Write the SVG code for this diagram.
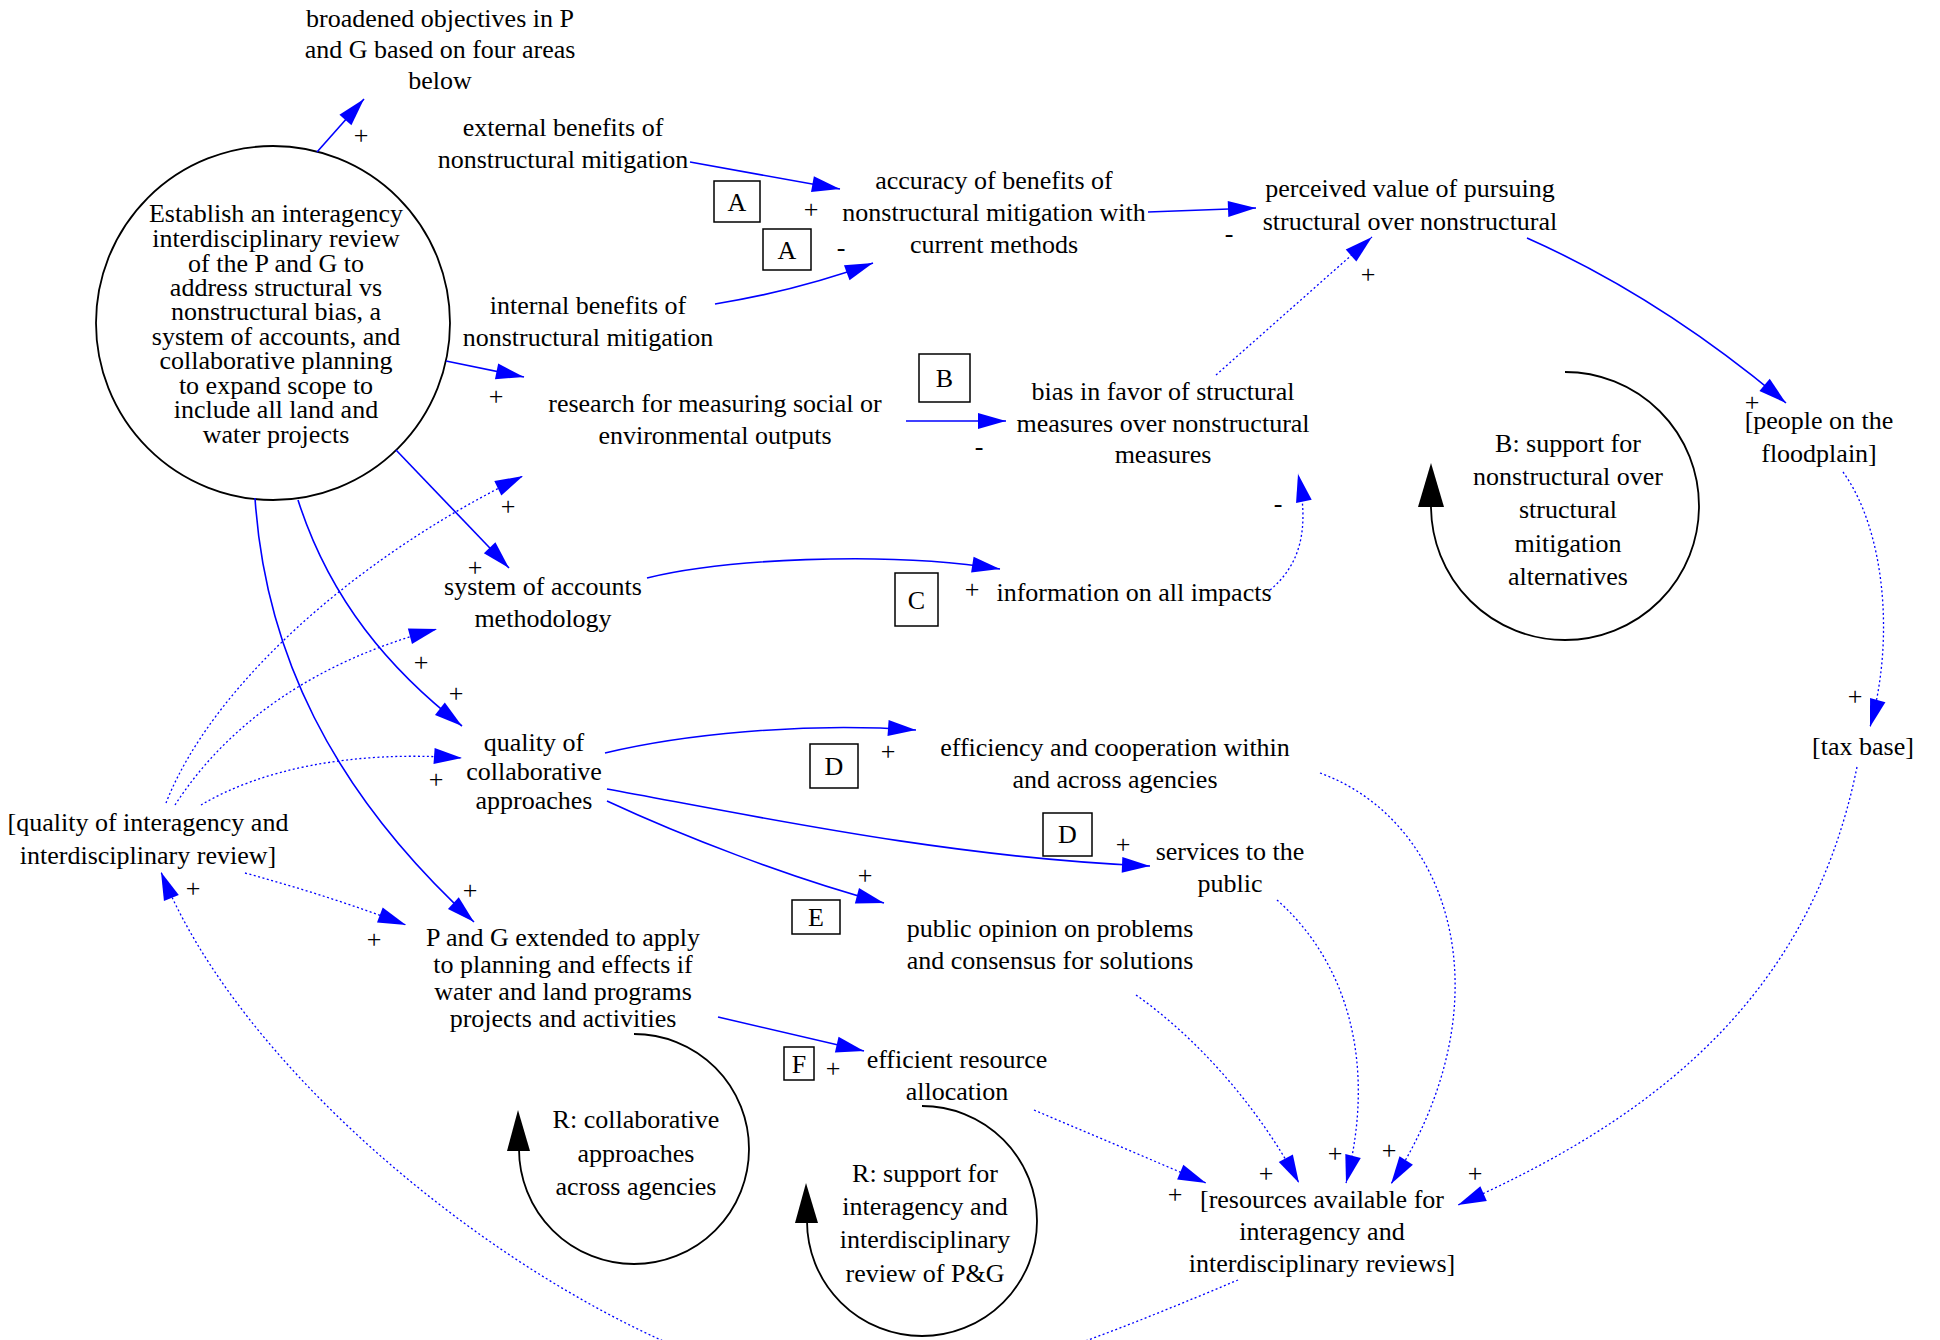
<svg xmlns="http://www.w3.org/2000/svg" width="1940" height="1340" viewBox="0 0 1940 1340">
<style>
.t { font-family: "Liberation Serif", "Times New Roman", serif; font-size: 26px; fill: #000; text-anchor: middle; }
.e { fill: none; stroke: #0000ff; stroke-width: 1.6; }
.d { stroke-dasharray: 2 2.5; stroke-width: 1.3; }
.loop { fill: none; stroke: #000; stroke-width: 1.8; }
.box { fill: none; stroke: #000; stroke-width: 1.5; }
.ah { fill: #000; }
</style>
<defs>
<marker id="a" markerUnits="userSpaceOnUse" markerWidth="30" markerHeight="18" refX="28" refY="8" orient="auto" overflow="visible">
<path d="M0,0 L28,8 L0,16 z" fill="#0000ff"/>
</marker>
</defs>
<rect width="1940" height="1340" fill="#fff"/>

<g id="n_broadened"><text class="t"><tspan x="440" y="27">broadened objectives in P</tspan><tspan x="440" y="58">and G based on four areas</tspan><tspan x="440" y="89">below</tspan></text></g>

<g id="n_establish">
<circle cx="273" cy="323" r="177" class="loop"/>
<text class="t"><tspan x="276" y="222">Establish an interagency</tspan><tspan x="276" y="247">interdisciplinary review</tspan><tspan x="276" y="272">of the P and G to</tspan><tspan x="276" y="296">address structural vs</tspan><tspan x="276" y="320">nonstructural bias, a</tspan><tspan x="276" y="345">system of accounts, and</tspan><tspan x="276" y="369">collaborative planning</tspan><tspan x="276" y="394">to expand scope to</tspan><tspan x="276" y="418">include all land and</tspan><tspan x="276" y="443">water projects</tspan></text>
</g>

<g id="n_external"><text class="t"><tspan x="563" y="136">external benefits of</tspan><tspan x="563" y="168">nonstructural mitigation</tspan></text></g>
<g id="n_internal"><text class="t"><tspan x="588" y="314">internal benefits of</tspan><tspan x="588" y="346">nonstructural mitigation</tspan></text></g>
<g id="n_research"><text class="t"><tspan x="715" y="412">research for measuring social or</tspan><tspan x="715" y="444">environmental outputs</tspan></text></g>
<g id="n_accuracy"><text class="t"><tspan x="994" y="189">accuracy of benefits of</tspan><tspan x="994" y="221">nonstructural mitigation with</tspan><tspan x="994" y="253">current methods</tspan></text></g>
<g id="n_perceived"><text class="t"><tspan x="1410" y="197">perceived value of pursuing</tspan><tspan x="1410" y="230">structural over nonstructural</tspan></text></g>
<g id="n_bias"><text class="t"><tspan x="1163" y="400">bias in favor of structural</tspan><tspan x="1163" y="432">measures over nonstructural</tspan><tspan x="1163" y="463">measures</tspan></text></g>
<g id="n_system"><text class="t"><tspan x="543" y="595">system of accounts</tspan><tspan x="543" y="627">methodology</tspan></text></g>
<g id="n_information"><text class="t"><tspan x="1134" y="601">information on all impacts</tspan></text></g>
<g id="n_qualcollab"><text class="t"><tspan x="534" y="751">quality of</tspan><tspan x="534" y="780">collaborative</tspan><tspan x="534" y="809">approaches</tspan></text></g>
<g id="n_efficiency"><text class="t"><tspan x="1115" y="756">efficiency and cooperation within</tspan><tspan x="1115" y="788">and across agencies</tspan></text></g>
<g id="n_qualreview"><text class="t"><tspan x="148" y="831">[quality of interagency and</tspan><tspan x="148" y="864">interdisciplinary review]</tspan></text></g>
<g id="n_services"><text class="t"><tspan x="1230" y="860">services to the</tspan><tspan x="1230" y="892">public</tspan></text></g>
<g id="n_opinion"><text class="t"><tspan x="1050" y="937">public opinion on problems</tspan><tspan x="1050" y="969">and consensus for solutions</tspan></text></g>
<g id="n_pandg"><text class="t"><tspan x="563" y="946">P and G extended to apply</tspan><tspan x="563" y="973">to planning and effects if</tspan><tspan x="563" y="1000">water and land programs</tspan><tspan x="563" y="1027">projects and activities</tspan></text></g>
<g id="n_efficient"><text class="t"><tspan x="957" y="1068">efficient resource</tspan><tspan x="957" y="1100">allocation</tspan></text></g>
<g id="n_resources"><text class="t"><tspan x="1322" y="1208">[resources available for</tspan><tspan x="1322" y="1240">interagency and</tspan><tspan x="1322" y="1272">interdisciplinary reviews]</tspan></text></g>
<g id="n_people"><text class="t"><tspan x="1819" y="429">[people on the</tspan><tspan x="1819" y="462">floodplain]</tspan></text></g>
<g id="n_tax"><text class="t"><tspan x="1863" y="755">[tax base]</tspan></text></g>

<g id="loop_B">
<path class="loop" d="M1565,372 A134,134 0 1 1 1431,506"/>
<polygon class="ah" points="1431,463 1418,507 1444,507"/>
<text class="t"><tspan x="1568" y="452">B: support for</tspan><tspan x="1568" y="485">nonstructural over</tspan><tspan x="1568" y="518">structural</tspan><tspan x="1568" y="552">mitigation</tspan><tspan x="1568" y="585">alternatives</tspan></text>
</g>
<g id="loop_R1">
<path class="loop" d="M634,1034 A115,115 0 1 1 519,1149"/>
<polygon class="ah" points="518,1110 507,1151 530,1151"/>
<text class="t"><tspan x="636" y="1128">R: collaborative</tspan><tspan x="636" y="1162">approaches</tspan><tspan x="636" y="1195">across agencies</tspan></text>
</g>
<g id="loop_R2">
<path class="loop" d="M922,1106 A115,115 0 1 1 807,1221"/>
<polygon class="ah" points="806,1183 795,1223 818,1223"/>
<text class="t"><tspan x="925" y="1182">R: support for</tspan><tspan x="925" y="1215">interagency and</tspan><tspan x="925" y="1248">interdisciplinary</tspan><tspan x="925" y="1282">review of P&amp;G</tspan></text>
</g>

<g id="tags">
<rect class="box" x="714" y="181" width="46" height="41"/><text class="t" x="737" y="211">A</text>
<rect class="box" x="763" y="229" width="48" height="41"/><text class="t" x="787" y="259">A</text>
<rect class="box" x="919" y="354" width="51" height="48"/><text class="t" x="944.5" y="387">B</text>
<rect class="box" x="895" y="573" width="43" height="53"/><text class="t" x="916.5" y="609">C</text>
<rect class="box" x="810" y="744" width="48" height="44"/><text class="t" x="834" y="775">D</text>
<rect class="box" x="1043" y="813" width="49" height="43"/><text class="t" x="1067.5" y="843">D</text>
<rect class="box" x="792" y="900" width="48" height="34"/><text class="t" x="816" y="926">E</text>
<rect class="box" x="784" y="1047" width="30" height="33"/><text class="t" x="799" y="1073">F</text>
</g>

<g id="connectors" marker-end="url(#a)">
<path class="e" d="M317,152 L364,99"/>
<path class="e" d="M690,162 L840,189"/>
<path class="e" d="M715,304 Q800,290 873,263"/>
<path class="e" d="M1148,212 L1256,208"/>
<path class="e" d="M1527,238 Q1660,297 1786,403"/>
<path class="e d" d="M1216,375 L1372,237"/>
<path class="e" d="M446,361 L524,377"/>
<path class="e" d="M906,421 L1006,421"/>
<path class="e d" d="M1270,590 C1300,565 1310,530 1298,474"/>
<path class="e" d="M396,450 L509,568"/>
<path class="e" d="M647,578 C720,560 880,550 1000,569"/>
<path class="e" d="M298,500 C330,600 390,670 462,726"/>
<path class="e" d="M255,498 C265,650 330,790 474,922"/>
<path class="e d" d="M166,803 C210,690 350,560 523,476"/>
<path class="e d" d="M175,805 C230,720 320,660 437,629"/>
<path class="e d" d="M201,805 C260,770 350,750 462,758"/>
<path class="e d" d="M245,873 Q330,896 406,925"/>
<path class="e" d="M605,753 C680,735 800,722 916,730"/>
<path class="e" d="M607,789 C750,815 950,858 1150,866"/>
<path class="e" d="M607,801 C680,835 790,878 884,903"/>
<path class="e" d="M718,1017 L864,1051"/>
<path class="e d" d="M1034,1110 L1206,1183"/>
<path class="e d" d="M1136,995 C1200,1040 1260,1110 1299,1183"/>
<path class="e d" d="M1277,900 C1345,960 1378,1060 1346,1183"/>
<path class="e d" d="M1320,773 C1450,820 1510,1000 1391,1184"/>
<path class="e d" d="M1857,767 C1810,1000 1650,1120 1458,1205"/>
<path class="e d" d="M1843,472 C1885,530 1895,640 1870,727"/>
<path class="e d" d="M1238,1280 C1130,1325 1000,1380 880,1395 C650,1400 260,1120 161,872"/>
</g>

<g id="signs">
<text class="t" x="361" y="144">+</text>
<text class="t" x="811" y="218">+</text>
<text class="t" x="841" y="256">-</text>
<text class="t" x="1229" y="242">-</text>
<text class="t" x="1752" y="411">+</text>
<text class="t" x="1368" y="283">+</text>
<text class="t" x="496" y="405">+</text>
<text class="t" x="979" y="455">-</text>
<text class="t" x="1278" y="512">-</text>
<text class="t" x="475" y="576">+</text>
<text class="t" x="972" y="598">+</text>
<text class="t" x="456" y="702">+</text>
<text class="t" x="470" y="899">+</text>
<text class="t" x="508" y="515">+</text>
<text class="t" x="421" y="671">+</text>
<text class="t" x="436" y="788">+</text>
<text class="t" x="374" y="948">+</text>
<text class="t" x="888" y="760">+</text>
<text class="t" x="1123" y="853">+</text>
<text class="t" x="865" y="884">+</text>
<text class="t" x="833" y="1077">+</text>
<text class="t" x="1175" y="1203">+</text>
<text class="t" x="1266" y="1182">+</text>
<text class="t" x="1335" y="1162">+</text>
<text class="t" x="1389" y="1159">+</text>
<text class="t" x="1475" y="1182">+</text>
<text class="t" x="1855" y="705">+</text>
<text class="t" x="193" y="897">+</text>
</g>
</svg>
